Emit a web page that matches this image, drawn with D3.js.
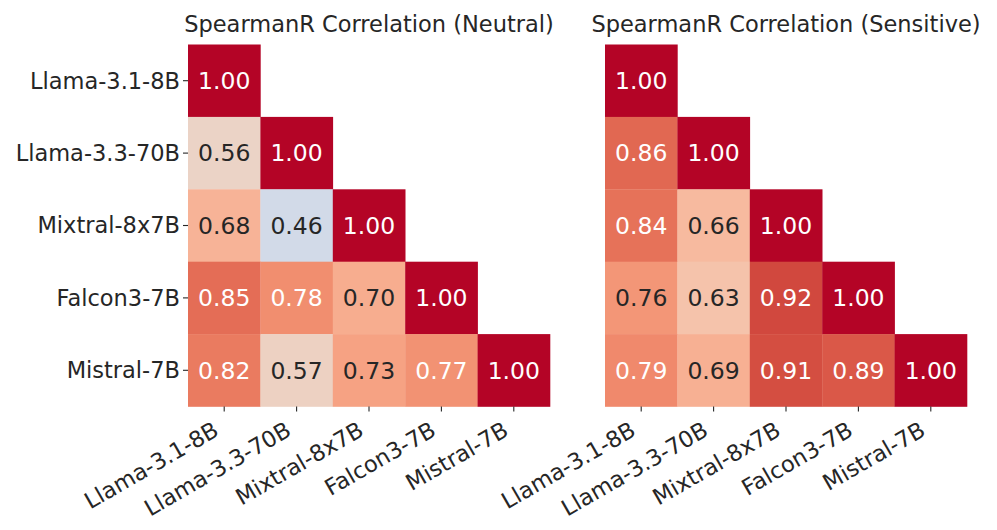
<!DOCTYPE html>
<html>
<head>
<meta charset="utf-8">
<script src="https://cdn.jsdelivr.net/npm/d3@7"></script>
<style>
  body { margin: 0; background: #fff; }
  svg text { font-family: "DejaVu Sans", sans-serif; fill: #262626; }
</style>
</head>
<body>
<svg id="chart" width="997" height="530"></svg>
<script>
// models in the same order on both axes
const models = ['Llama-3.1-8B', 'Llama-3.3-70B', 'Mixtral-8x7B', 'Falcon3-7B', 'Mistral-7B'];

// lower triangle (diagonal included), row by row
const neutral = [
    [1.00],
    [0.56, 1.00],
    [0.68, 0.46, 1.00],
    [0.85, 0.78, 0.70, 1.00],
    [0.82, 0.57, 0.73, 0.77, 1.00]
];
const sensitive = [
    [1.00],
    [0.86, 1.00],
    [0.84, 0.66, 1.00],
    [0.76, 0.63, 0.92, 1.00],
    [0.79, 0.69, 0.91, 0.89, 1.00]
];

// coolwarm colormap samples (0..1)
const coolwarm = [
    [59,76,192],[68,90,204],[77,104,215],[87,117,225],[98,130,234],[108,142,241],
    [119,154,247],[130,165,251],[141,176,254],[152,185,255],[163,194,255],[174,201,253],
    [184,208,249],[194,213,244],[204,217,238],[213,219,230],[221,221,221],[229,216,209],
    [236,211,197],[241,204,185],[245,196,173],[247,187,160],[247,177,148],[247,166,135],
    [244,154,123],[241,141,111],[236,127,99],[229,112,88],[222,96,77],[213,80,66],
    [203,62,56],[192,40,47],[180,4,38]
].map(c => d3.rgb(c[0], c[1], c[2]).formatHex());

const color = d3.scaleLinear()
    .domain(coolwarm.map((c, i) => i / (coolwarm.length - 1)))
    .range(coolwarm)
    .interpolate(d3.interpolateRgb)
    .clamp(true);

function luminance(hex) {
    const c = d3.rgb(hex);
    const lin = v => { v /= 255; return v <= 0.03928 ? v / 12.92 : Math.pow((v + 0.055) / 1.055, 2.4); };
    return 0.2126 * lin(c.r) + 0.7152 * lin(c.g) + 0.0722 * lin(c.b);
}

const svg = d3.select('#chart');
const gridTop = 44.5, gridBottom = 406.5;
const fontSize = 22.5;
const annotSize = 23.5;

function drawHeatmap(matrix, title, x0, x1, showY) {
    const x = d3.scaleBand().domain(models).range([x0, x1]);
    const y = d3.scaleBand().domain(models).range([gridTop, gridBottom]);
    const g = svg.append('g');

    const cells = [];
    matrix.forEach((row, i) => row.forEach((v, j) => cells.push({ row: models[i], col: models[j], v })));

    g.selectAll('rect')
        .data(cells)
        .join('rect')
        .attr('x', d => x(d.col))
        .attr('y', d => y(d.row))
        .attr('width', x.bandwidth() + 0.3)
        .attr('height', y.bandwidth() + 0.3)
        .attr('fill', d => color(d.v));

    g.selectAll('.val')
        .data(cells)
        .join('text')
        .attr('class', 'val')
        .attr('x', d => x(d.col) + x.bandwidth() / 2)
        .attr('y', d => y(d.row) + y.bandwidth() / 2)
        .attr('dy', '0.35em')
        .attr('text-anchor', 'middle')
        .style('font-size', annotSize + 'px')
        .style('fill', d => luminance(color(d.v)) > 0.408 ? '#262626' : '#ffffff')
        .text(d => d.v.toFixed(2));

    // x axis: ticks + rotated labels
    const xa = g.append('g');
    xa.selectAll('line')
        .data(models)
        .join('line')
        .attr('x1', d => x(d) + x.bandwidth() / 2)
        .attr('x2', d => x(d) + x.bandwidth() / 2)
        .attr('y1', gridBottom)
        .attr('y2', gridBottom + 5)
        .attr('stroke', '#262626')
        .attr('stroke-width', 1.1);
    xa.selectAll('text')
        .data(models)
        .join('text')
        .attr('text-anchor', 'end')
        .attr('transform', d => `translate(${x(d) + x.bandwidth() / 2 - 4}, ${gridBottom + 28}) rotate(-30)`)
        .style('font-size', fontSize + 'px')
        .text(d => d);

    if (showY) {
        const ya = g.append('g');
        ya.selectAll('line')
            .data(models)
            .join('line')
            .attr('x1', x0 - 5)
            .attr('x2', x0)
            .attr('y1', d => y(d) + y.bandwidth() / 2)
            .attr('y2', d => y(d) + y.bandwidth() / 2)
            .attr('stroke', '#262626')
            .attr('stroke-width', 1.1);
        ya.selectAll('text')
            .data(models)
            .join('text')
            .attr('x', x0 - 8)
            .attr('y', d => y(d) + y.bandwidth() / 2)
            .attr('dy', '0.35em')
            .attr('text-anchor', 'end')
            .style('font-size', fontSize + 'px')
            .text(d => d);
    }

    g.append('text')
        .attr('x', (x0 + x1) / 2)
        .attr('y', 32)
        .attr('text-anchor', 'middle')
        .style('font-size', fontSize + 'px')
        .text(title);
}

drawHeatmap(neutral, 'SpearmanR Correlation (Neutral)', 188, 550, true);
drawHeatmap(sensitive, 'SpearmanR Correlation (Sensitive)', 605, 967, false);
</script>
</body>
</html>
